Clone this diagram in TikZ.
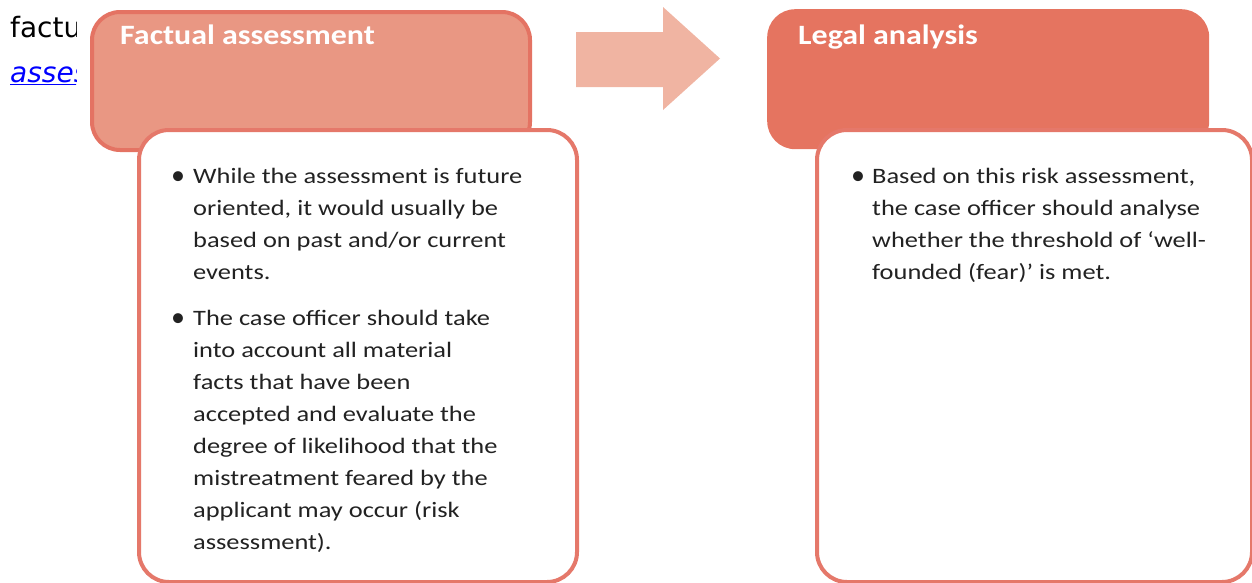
\documentclass[tikz,border=0pt]{standalone}
\usepackage{fontspec}
\setmainfont{Carlito}
\newfontfamily\bodyfont[FakeStretch=1.2]{Carlito}
\newfontfamily\headfont[FakeStretch=1.14]{Carlito}
\newfontfamily\dejavu{DejaVu Sans}
\definecolor{lhfill}{RGB}{233,151,131}
\definecolor{lhborder}{RGB}{228,115,99}
\definecolor{rhfill}{RGB}{229,116,96}
\definecolor{arrowfill}{RGB}{240,180,162}
\definecolor{bodyborder}{RGB}{229,120,106}
\definecolor{bodytext}{RGB}{34,34,34}
\tikzset{
  hdrbox/.style={rectangle, rounded corners=28pt, anchor=north west, inner sep=0pt},
  bodybox/.style={rectangle, rounded corners=30pt, anchor=north west, inner sep=0pt, draw=bodyborder, line width=4pt, fill=white},
  hdrtext/.style={anchor=base west, inner sep=0pt, text=white, font=\headfont\bfseries\fontsize{28}{32}\selectfont},
  bodytxt/.style={anchor=north west, inner sep=0pt, align=left, text=bodytext, font=\bodyfont\fontsize{22}{32}\selectfont},
  bulletmark/.style={anchor=base west, inner sep=0pt, text=bodytext, font=\fontsize{28}{32}\selectfont},
  pagetext/.style={anchor=base west, inner sep=0pt, font=\dejavu\fontsize{28}{32}\selectfont}
}
\begin{document}
\begin{tikzpicture}[x=1pt,y=-1pt]
\useasboundingbox (0,0) rectangle (1252,582);
% page text behind
\begin{scope}
\clip (0,0) rectangle (76,120);
\node[pagetext] (pt1) at (10,37) {factual};
\node[pagetext, text=blue, font=\dejavu\itshape\fontsize{28}{32}\selectfont] (pt2) at (10,82) {\underline{assessment}};
\end{scope}
% left header
\node[hdrbox, fill=lhfill, draw=lhborder, line width=4pt, minimum width=438pt, minimum height=138pt] (lh) at (90,10) {};
\node[hdrtext] (lht) at (120,44) {Factual assessment};
% left body
\node[bodybox, minimum width=438pt, minimum height=452pt] (lb) at (137,128) {};
\node[bulletmark] (lb1) at (171,184) {•};
\node[bodytxt] (lt1) at (193,168) {While the assessment is future\\oriented, it would usually be\\based on past and/or current\\events.};
\node[bulletmark] (lb2) at (171,326) {•};
\node[bodytxt] (lt2) at (193,310) {The case officer should take\\into account all material\\facts that have been\\accepted and evaluate the\\degree of likelihood that the\\mistreatment feared by the\\applicant may occur (risk\\assessment).};
% arrow
\fill[arrowfill] (576,32) -- (663,32) -- (663,7) -- (720,58.5) -- (663,110) -- (663,87) -- (576,87) -- cycle;
% right header
\node[hdrbox, fill=rhfill, minimum width=442pt, minimum height=140pt] (rh) at (767,9) {};
\node[hdrtext] (rht) at (798,44) {Legal analysis};
% right body
\node[bodybox, minimum width=435pt, minimum height=452pt] (rb) at (815,128) {};
\node[bulletmark] (rb1) at (851,184) {•};
\node[bodytxt] (rt1) at (872,168) {Based on this risk assessment,\\the case officer should analyse\\whether the threshold of ‘well-\\founded (fear)’ is met.};
\end{tikzpicture}
\end{document}
